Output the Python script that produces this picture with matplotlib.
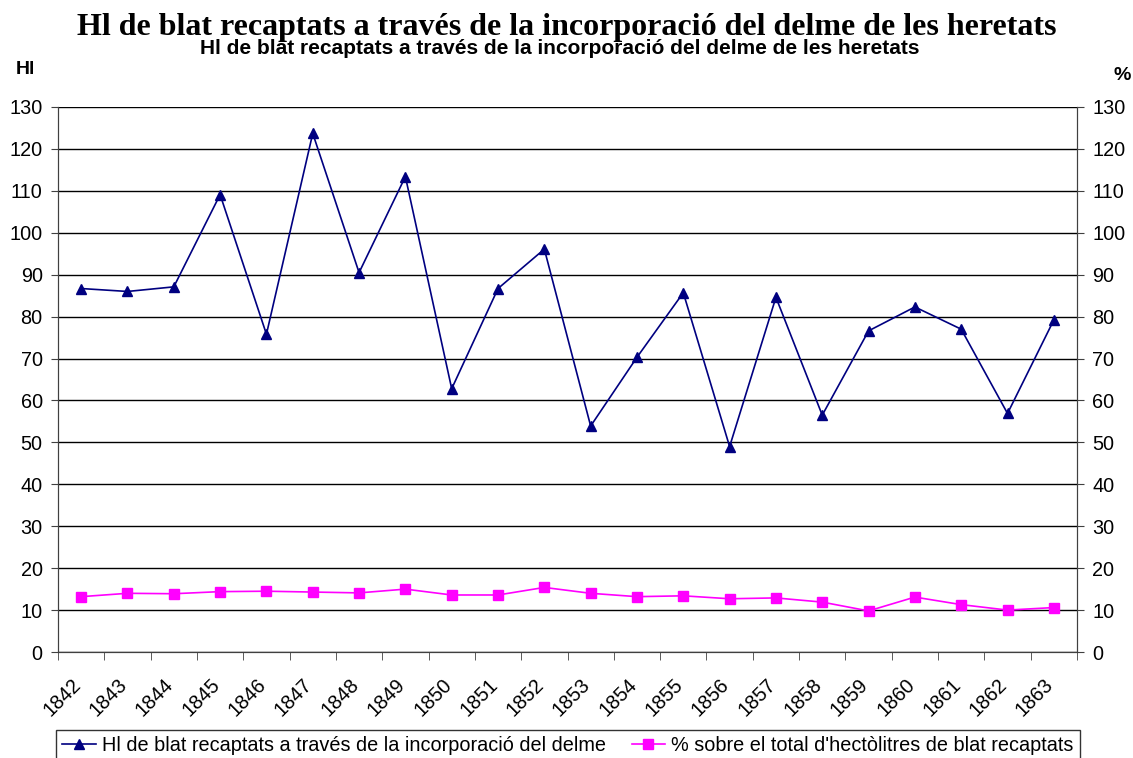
import matplotlib
matplotlib.use("Agg")
import matplotlib.pyplot as plt
import matplotlib.transforms as mtransforms
import numpy as np

years = list(range(1842, 1864))
hl_delme = [86.7, 86.0, 87.1, 109.1, 75.8, 123.7, 90.5, 113.4, 62.8, 86.7, 96.1,
            53.9, 70.3, 85.7, 49.0, 84.6, 56.5, 76.6, 82.3, 77.0, 56.9, 79.2]
pct_total = [13.2, 14.0, 13.9, 14.4, 14.5, 14.3, 14.1, 15.0, 13.6, 13.6, 15.4,
             14.0, 13.2, 13.4, 12.7, 12.9, 11.9, 9.8, 13.1, 11.3, 10.0, 10.6]
yticks = list(range(0, 131, 10))

title = "Hl de blat recaptats a través de la incorporació del delme de les heretats"
label_hl = "Hl de blat recaptats a través de la incorporació del delme"
label_pct = "% sobre el total d'hectòlitres de blat recaptats"

plt.rcParams["font.family"] = ["Liberation Sans", "DejaVu Sans"]

W, H = 1133, 758
fig = plt.figure(figsize=(W / 100, H / 100), dpi=100)
ax = fig.add_axes([58 / W, 1 - 652 / H, (1077 - 58) / W, (652 - 107) / H])
ax2 = ax.twinx()

x = np.arange(len(years))
l1, = ax.plot(x, hl_delme, color="#000080", marker="^", markersize=7, lw=1.2)
l2, = ax2.plot(x, pct_total, color="#FF00FF", marker="s", markersize=7, lw=1.2)

for a in (ax, ax2):
    a.set_ylim(0, 130)
    a.set_yticks(yticks)
    a.set_xlim(-0.5, len(years) - 0.5)
    a.tick_params(axis="y", labelsize=14.3, length=5, pad=6, color="#404040")
    for s in a.spines.values():
        s.set_color("#404040")
    a.spines["top"].set_visible(False)

ax.set_axisbelow(True)
ax.yaxis.grid(True, color="black", lw=1)
ax.set_xticks(x)
ax.set_xticklabels(years, rotation=45, ha="right", rotation_mode="anchor", fontsize=14.3)
ax.set_xticks(np.arange(-0.5, len(years)), minor=True)
ax.tick_params(axis="x", which="major", length=0, pad=8)
ax.tick_params(axis="x", which="minor", length=6, color="#404040")
shift = mtransforms.ScaledTranslation(-10 / 100, -12 / 100, fig.dpi_scale_trans)
for lab in ax.get_xticklabels():
    lab.set_transform(lab.get_transform() + shift)

fig.text(0.5, 1 - 28 / H, title, ha="center", va="center", fontsize=23,
         fontweight="bold", family="Liberation Serif")
fig.text(560 / W, 1 - 49 / H, title, ha="center", va="center", fontsize=15,
         fontweight="bold")
fig.text(25 / W, 1 - 70 / H, "Hl", ha="center", va="center", fontsize=14, fontweight="bold")
fig.text(1122 / W, 1 - 76 / H, "%", ha="center", va="center", fontsize=14, fontweight="bold")

leg = fig.legend([l1, l2], [label_hl, label_pct], loc="upper left", ncol=2,
                 bbox_to_anchor=(56 / W, 1 - 730 / H), borderaxespad=0,
                 fontsize=14.3, frameon=True, fancybox=False, edgecolor="black",
                 handlelength=1.7, handletextpad=0.3, columnspacing=1.3,
                 borderpad=0.3)
leg.get_frame().set_linewidth(1)

fig.savefig("out.png", dpi=100)
